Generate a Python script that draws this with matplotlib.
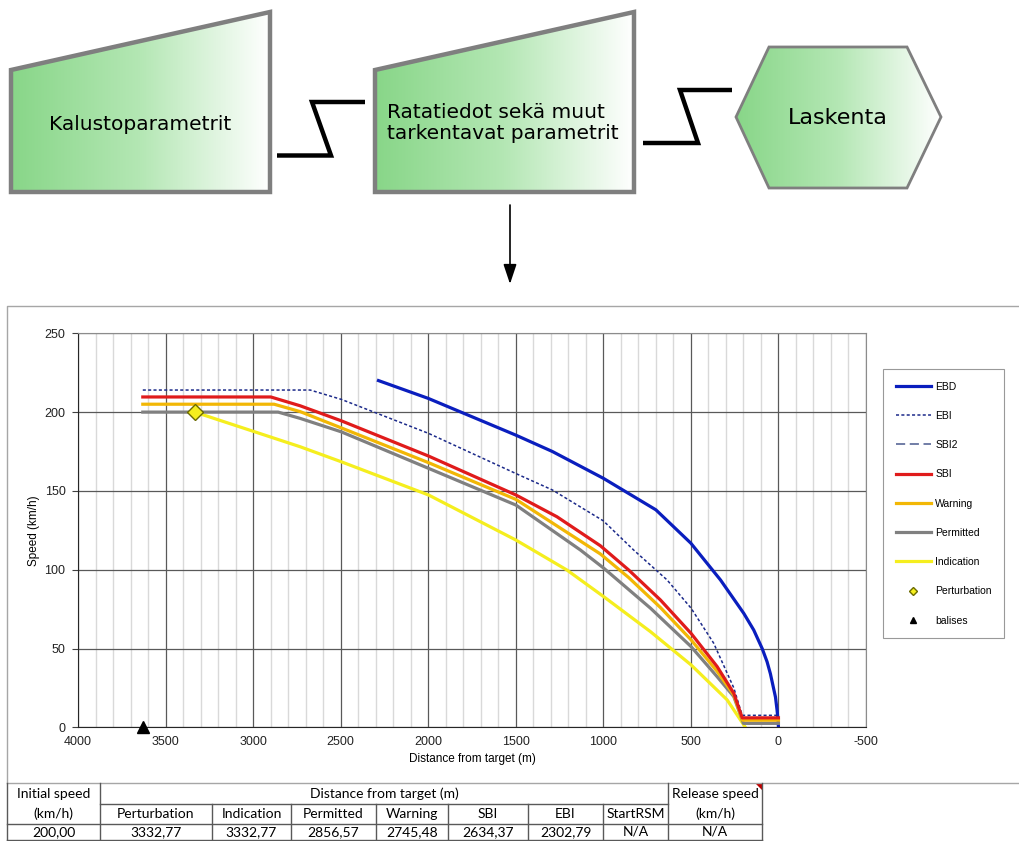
import numpy as np
import matplotlib.pyplot as plt
from matplotlib.patches import Polygon
from matplotlib.colors import LinearSegmentedColormap

plt.rcParams['axes.unicode_minus'] = False

# Braking curves: distance from target (m) and speed (km/h)
ebd_d = [2284, 2000, 1500, 1291, 1000, 700, 500, 331, 198, 141, 93, 65, 46, 17, 8, 2, 0]
ebd_v = [220, 208.7, 185.4, 175, 158, 138, 116.8, 93.5, 72.3, 61.7, 50, 41.6, 34, 19.2, 11, 4, 0]

ebi_d = [3630, 2674, 2497, 1998, 1499, 1291, 1000, 827, 636, 499, 370, 255, 207, 0]
ebi_v = [214, 214, 208.1, 186.5, 161, 150.6, 131, 112.5, 93.5, 75.6, 53.4, 25, 7.6, 7.6]

sbi2_d = []
sbi2_v = []

sbi_d = [3630, 2899, 2731, 2497, 1998, 1499, 1265, 1017, 855, 674, 499, 350, 255, 207, 0]
sbi_v = [209.6, 209.6, 204, 194.5, 172.1, 147.4, 133.6, 115.2, 99.8, 80.8, 59.6, 38.5, 21.6, 6, 6]

warning_d = [3630, 2880, 2731, 2497, 1998, 1499, 1017, 855, 674, 499, 350, 255, 205, 0]
warning_v = [205, 205, 200.3, 190, 167.9, 144.6, 110, 95, 76, 55.5, 35.5, 20.5, 4.5, 4.5]

permitted_d = [3630, 2857, 2731, 2497, 1998, 1499, 1131, 998, 731, 499, 350, 255, 200, 0]
permitted_v = [200, 200, 196, 187.5, 164.3, 141, 112.5, 101, 75.6, 51.2, 32.1, 19.5, 2.5, 2.5]

indication_d = [3332.77, 2731, 2497, 1998, 1499, 1208, 998, 731, 499, 293, 189]
indication_v = [200, 178, 168.5, 147.4, 118.8, 99.8, 82.9, 60.7, 39.6, 17.4, 0]

perturbation_d = [3332.77]
perturbation_v = [200]
balise_d = [3630]
balise_v = [0]

# table under the chart
table_groups = ["Distance from target (m)"]
table_cols = ["Perturbation", "Indication", "Permitted", "Warning", "SBI", "EBI", "StartRSM"]
table_side = [("Initial speed", "(km/h)"), ("Release speed", "(km/h)")]
table_vals = ["200,00", "3332,77", "3332,77", "2856,57", "2745,48", "2634,37", "2302,79", "N/A", "N/A"]

# flow diagram labels
box_labels = ["Kalustoparametrit", "Ratatiedot sekä muut\ntarkentavat parametrit", "Laskenta"]

W, H = 1019, 841
fig = plt.figure(figsize=(W / 100, H / 100), dpi=100)
fig.patch.set_facecolor('white')

# pixel canvas for the diagram, frame and table
cv = fig.add_axes([0, 0, 1, 1])
cv.axis('off')
green = LinearSegmentedColormap.from_list('g', ['#88D688', '#B4E7B4', '#FFFFFF'])


def gradient_shape(pts, lw):
    poly = Polygon(pts, closed=True, facecolor='none', edgecolor='#7F7F7F',
                   lw=lw, joinstyle='miter', zorder=3)
    cv.add_patch(poly)
    xs = [p[0] for p in pts]
    ys = [p[1] for p in pts]
    grad = np.linspace(0, 1, 256).reshape(1, -1)
    im = cv.imshow(grad, cmap=green, extent=(min(xs), max(xs), max(ys), min(ys)),
                   aspect='auto', interpolation='bilinear', zorder=2)
    im.set_clip_path(poly)


gradient_shape([(11, 70), (270, 12), (270, 192), (11, 192)], 3.2)
gradient_shape([(375, 70), (634, 12), (634, 192), (375, 192)], 3.2)
gradient_shape([(736, 117), (769, 47), (907, 47), (941, 117), (907, 188), (769, 188)], 2)

cv.text(140, 124, box_labels[0], ha='center', va='center', fontsize=14.5,
        family='DejaVu Sans', zorder=4)
cv.text(387, 123, box_labels[1], ha='left', va='center', fontsize=14.5,
        family='DejaVu Sans', linespacing=1.15, zorder=4)
cv.text(838, 118, box_labels[2], ha='center', va='center', fontsize=16,
        family='DejaVu Sans', zorder=4)

# Z-shaped connectors
cv.plot([277, 331, 312, 365], [155.5, 155.5, 102, 102], color='black', lw=3.2,
        solid_joinstyle='miter', solid_capstyle='butt')
cv.plot([643, 698, 680, 732], [143, 143, 90, 90], color='black', lw=3.2,
        solid_joinstyle='miter', solid_capstyle='butt')
cv.annotate('', xy=(510, 284), xytext=(510, 205),
            arrowprops=dict(arrowstyle='-|>,head_length=1.2,head_width=0.4',
                            color='black', lw=1.2, shrinkA=0, shrinkB=0))

# chart frame
cv.plot([7, 7, 1030], [783, 306, 306], color='#A6A6A6', lw=1)
cv.plot([7, 1030], [783, 783], color='#A6A6A6', lw=1)

# table
col_x = [7, 100, 212, 291, 376, 448, 528, 603, 668, 762]
row_y = [783, 804, 823.5, 840]
tc = '#595959'
tfont = dict(family='Lato', fontsize=10, ha='center', va='center', color='black')
cv.plot([col_x[0], col_x[-1]], [row_y[2], row_y[2]], color=tc, lw=1)
cv.plot([col_x[0], col_x[-1]], [row_y[3], row_y[3]], color=tc, lw=1)
cv.plot([col_x[1], col_x[-2]], [row_y[1], row_y[1]], color=tc, lw=1)
for i, x in enumerate(col_x):
    top = row_y[0] if i in (0, 1, 8, 9) else row_y[1]
    cv.plot([x, x], [top, row_y[3]], color=tc, lw=1)
cv.add_patch(Polygon([(755, 783), (762, 783), (762, 790)], closed=True, color='#C00000', lw=0))

cv.text((col_x[0] + col_x[1]) / 2, 794, table_side[0][0], **tfont)
cv.text((col_x[0] + col_x[1]) / 2, 814, table_side[0][1], **tfont)
cv.text((col_x[8] + col_x[9]) / 2, 794, table_side[1][0], **tfont)
cv.text((col_x[8] + col_x[9]) / 2, 814, table_side[1][1], **tfont)
cv.text((col_x[1] + col_x[8]) / 2, 794, table_groups[0], **tfont)
for i, name in enumerate(table_cols):
    cv.text((col_x[i + 1] + col_x[i + 2]) / 2, 814, name, **tfont)
for i, val in enumerate(table_vals):
    cv.text((col_x[i] + col_x[i + 1]) / 2, 832, val, **tfont)

cv.set_xlim(0, W)
cv.set_ylim(H, 0)

# speed chart
ax = fig.add_axes([78 / W, 1 - 727.3 / H, 788 / W, 394 / H])
ax.plot(ebd_d, ebd_v, color='#0A1EBE', lw=2.3, label='EBD')
ax.plot(ebi_d, ebi_v, color='#1C2A8A', lw=1.1, dashes=(2, 1.5), label='EBI')
ax.plot(sbi2_d, sbi2_v, color='#4A5A8E', lw=1.1, dashes=(6, 3), label='SBI2')
ax.plot(indication_d, indication_v, color='#F5EE1E', lw=2.3, label='Indication')
ax.plot(permitted_d, permitted_v, color='#808080', lw=2.3, label='Permitted')
ax.plot(warning_d, warning_v, color='#F2B705', lw=2.3, label='Warning')
ax.plot(sbi_d, sbi_v, color='#E01B1B', lw=2.3, label='SBI')
ax.plot(perturbation_d, perturbation_v, 'D', ms=8.5, mfc='#F5EE1E', mec='#6B6B00',
        mew=1, label='Perturbation', zorder=5)
ax.plot(balise_d, balise_v, '^', ms=9, color='black', label='balises',
        clip_on=False, zorder=5)

ax.set_xlim(4000, -500)
ax.set_ylim(0, 250)
ax.set_xticks(np.arange(4000, -501, -500))
ax.set_xticks(np.arange(-500, 4001, 100), minor=True)
ax.set_yticks(np.arange(0, 251, 50))
ax.grid(which='minor', axis='x', color='#D9D9D9', lw=1)
ax.grid(which='major', color='#595959', lw=0.9)
ax.set_axisbelow(True)
ax.tick_params(axis='x', which='both', length=0, pad=6, labelsize=9, labelcolor='#222222')
ax.tick_params(axis='y', length=4, pad=5, labelsize=9, labelcolor='#222222', color='#404040')
for lab in ax.get_xticklabels() + ax.get_yticklabels():
    lab.set_family('Liberation Sans')
for s in ['left', 'bottom']:
    ax.spines[s].set_color('#262626')
for s in ['top', 'right']:
    ax.spines[s].set_color('#8C8C8C')
ax.set_xlabel('Distance from target (m)', family='Liberation Sans', fontsize=8.5, labelpad=4)
ax.set_ylabel('Speed (km/h)', family='Liberation Sans', fontsize=8.5, labelpad=3)

order = ['EBD', 'EBI', 'SBI2', 'SBI', 'Warning', 'Permitted', 'Indication', 'Perturbation', 'balises']
handles, labels = ax.get_legend_handles_labels()
lookup = dict(zip(labels, handles))
leg = ax.legend([lookup[k] for k in order], order, loc='upper left',
                bbox_to_anchor=(883 / W, 1 - 369 / H), bbox_transform=fig.transFigure,
                prop={'family': 'Liberation Sans', 'size': 7.5}, frameon=True,
                fancybox=False, edgecolor='#808080', handlelength=3.4,
                handletextpad=0.4, labelspacing=1.85, borderpad=1.2,
                markerscale=0.5, borderaxespad=0, numpoints=1)
leg.get_frame().set_linewidth(0.8)

fig.savefig('out.png', dpi=100)
